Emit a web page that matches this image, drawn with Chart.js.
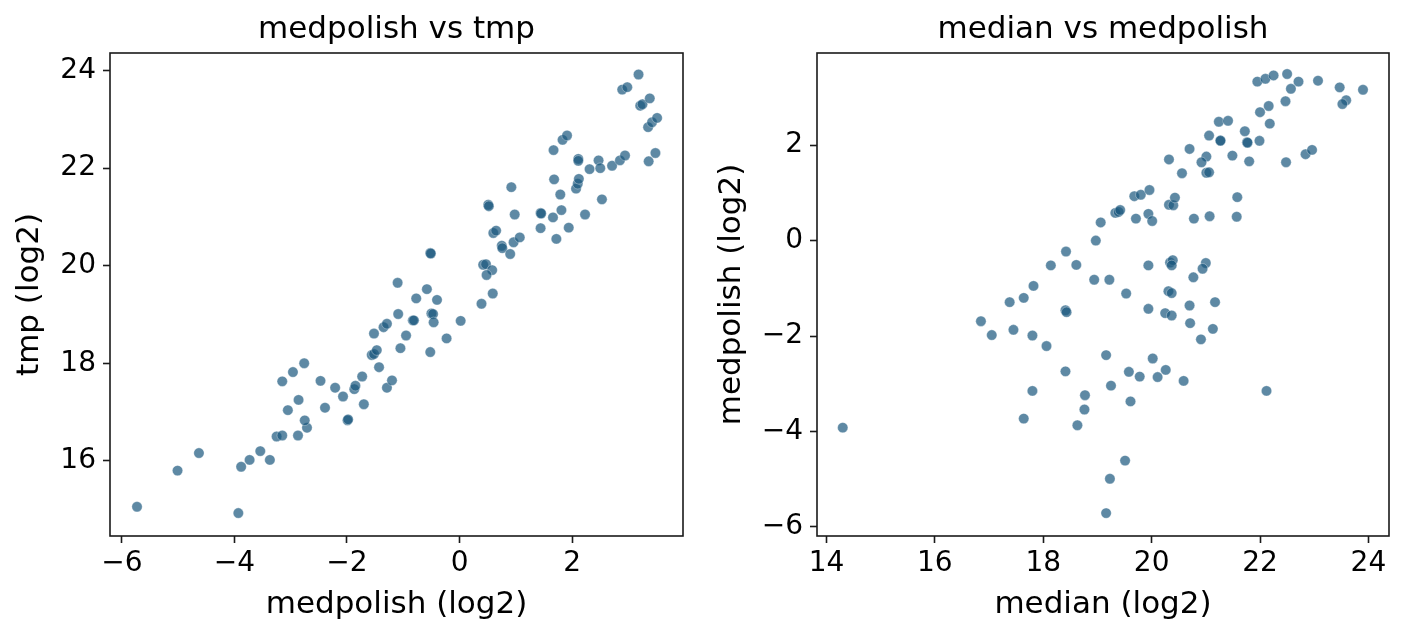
<!DOCTYPE html>
<html>
<head>
<meta charset="utf-8">
<script src="https://cdn.jsdelivr.net/npm/chart.js@4.4.1/dist/chart.umd.min.js"></script>
<style>
  html, body { margin: 0; padding: 0; background: #fff; width: 1405px; height: 638px; overflow: hidden; }
  canvas { position: absolute; top: 0; }
  #c1 { left: 0; }
  #c2 { left: 703px; }
</style>
</head>
<body>
<canvas id="c1" width="703" height="638"></canvas>
<canvas id="c2" width="702" height="638"></canvas>
<script>
// ---- Data ----
const leftMedpolish = [-5.73,-5.01,-4.63,-3.93,-3.88,-3.73,-3.54,-3.37,-3.25,-3.15,
  -2.87,-2.71,-2.75,-3.05,-2.86,-3.15,-2.96,-2.76,-2.47,-2.39,
  -2.21,-2.07,-1.99,-1.98,-1.87,-1.85,-1.73,-1.70,-1.56,-1.52,
  -1.47,-1.52,-1.43,-1.35,-1.29,-1.29,-1.20,-1.10,-1.09,-1.05,
  -0.95,-0.83,-0.81,-0.77,-0.58,-0.40,-0.50,-0.47,-0.46,-0.52,
  -0.23,0.02,-0.52,-0.51,0.39,0.59,0.42,0.47,0.58,0.48,
  0.75,0.76,0.96,0.90,1.07,0.60,0.65,0.51,0.52,0.92,
  0.98,1.44,1.45,1.44,1.66,1.81,1.72,1.94,1.79,1.68,
  1.67,1.83,1.91,2.07,2.10,2.12,2.11,2.11,2.23,2.31,
  2.47,2.50,2.53,2.71,2.85,2.94,2.89,2.98,3.18,3.21,
  3.25,3.38,3.35,3.42,3.51,3.48,3.36];
const leftTmp = [15.06,15.80,16.16,14.93,15.88,16.02,16.20,16.02,16.50,16.52,
  16.52,16.68,16.83,17.04,17.25,17.63,17.82,18.00,17.64,17.09,
  17.50,17.32,16.83,16.85,17.47,17.54,17.73,17.16,18.17,18.19,
  18.27,18.61,17.92,18.74,18.81,17.50,17.65,19.65,19.01,18.31,
  18.57,18.88,18.88,19.33,19.52,19.30,19.02,19.01,18.84,18.23,
  18.51,18.87,20.26,20.25,19.22,19.43,20.02,20.03,19.91,19.81,
  20.41,20.36,20.48,20.24,20.58,20.67,20.72,21.25,21.22,21.61,
  21.05,21.08,21.07,20.77,20.99,21.14,20.55,20.78,21.46,21.77,
  22.37,22.58,22.67,21.58,21.68,21.78,22.19,22.15,21.05,21.98,
  22.16,22.00,21.36,22.05,22.16,22.26,23.61,23.66,23.92,23.28,
  23.31,23.43,22.84,22.94,23.03,22.31,22.14];

const rightMedian = [14.30,16.85,17.05,17.38,17.64,17.82,18.14,18.42,17.45,17.80,
  18.06,18.41,18.43,18.41,17.80,17.64,18.61,18.94,19.22,19.53,
  18.97,19.06,19.33,19.39,19.42,19.71,19.94,20.01,19.68,19.80,
  19.96,20.32,20.32,20.40,20.43,19.94,20.34,20.39,20.37,21.00,
  20.94,20.77,20.31,20.37,21.17,20.70,19.94,20.25,20.37,20.71,
  21.13,20.91,19.16,20.02,19.58,19.78,20.11,20.26,20.59,22.12,
  19.25,18.77,18.76,18.63,19.61,19.51,19.23,19.16,21.95,22.10,
  22.25,22.50,22.71,22.57,23.07,23.47,23.90,23.59,23.52,22.47,
  22.16,22.00,22.18,21.24,21.41,21.72,21.06,21.27,21.27,21.76,
  21.77,21.99,20.70,21.01,20.92,21.49,21.80,22.48,22.84,22.96,
  20.56,21.01,21.06,21.58,20.78,21.07,21.57];
const rightMedpolish = [-3.92,-1.69,-1.98,-1.29,-1.20,-0.95,-0.52,-0.23,-1.87,-1.99,
  -2.21,-1.46,-1.50,-2.74,-3.15,-3.73,-0.51,-0.82,-0.82,-1.11,
  0.00,0.38,0.58,0.60,0.64,0.46,0.56,0.41,0.93,0.96,
  1.06,1.70,0.75,0.74,0.90,-0.52,-0.46,-0.41,-0.52,-0.47,
  -0.59,-0.77,-1.06,-1.10,-1.29,-1.36,-1.43,-1.52,-1.57,-1.73,
  -1.85,-2.07,-2.40,-2.47,-2.75,-2.85,-2.86,-2.71,-2.94,-3.15,
  -3.04,-3.24,-3.54,-3.87,-3.37,-4.61,-4.99,-5.71,3.33,3.39,
  3.46,3.49,3.33,3.18,3.35,3.21,3.16,2.94,2.86,2.92,
  2.82,2.69,2.45,2.49,2.51,2.29,2.20,2.10,2.09,2.06,
  2.05,2.09,1.92,1.76,1.64,1.78,1.66,1.64,1.81,1.90,
  1.41,1.42,1.43,0.91,0.46,0.51,0.50];

const leftXTicks = [-6, -4, -2, 0, 2];
const leftYTicks = [16, 18, 20, 22, 24];
const rightXTicks = [14, 16, 18, 20, 22, 24];
const rightYTicks = [-6, -4, -2, 0, 2];

const titles = ['medpolish vs tmp', 'median vs medpolish'];
const xLabels = ['medpolish (log2)', 'median (log2)'];
const yLabels = ['tmp (log2)', 'medpolish (log2)'];

// ---- Styling ----
const FONT = 'DejaVu Sans';
const FS_TICK = 28;
const FS_LABEL = 31;
const POINT = 'rgba(26,87,125,0.70)';
const EDGE = 'rgba(255,255,255,0.55)';
const INK = '#000000';

// frame on all four sides + title centred over the plotting area (matplotlib style)
const framePlugin = {
  id: 'frame',
  afterDraw(chart, args, opts) {
    const {ctx, chartArea: a} = chart;
    ctx.save();
    ctx.strokeStyle = '#1a1a1a';
    ctx.lineWidth = 1.6;
    ctx.strokeRect(a.left, a.top, a.right - a.left, a.bottom - a.top);
    ctx.fillStyle = INK;
    ctx.font = FS_LABEL + 'px "' + FONT + '"';
    ctx.textAlign = 'center';
    ctx.textBaseline = 'middle';
    ctx.fillText(opts.text, (a.left + a.right) / 2, 30);
    ctx.restore();
  }
};

const fmt = v => String(v).replace('-', '\u2212');

function makeChart(id, xs, ys, xt, yt, lim, title, xl, yl, yW, padRight, yTitlePad) {
  const pts = xs.map((x, i) => ({x: x, y: ys[i]}));
  return new Chart(document.getElementById(id), {
    type: 'scatter',
    data: { datasets: [{
      data: pts,
      backgroundColor: POINT,
      borderColor: EDGE,
      borderWidth: 0.6,
      pointRadius: 5.2,
      pointHoverRadius: 5.2
    }]},
    options: {
      responsive: false,
      animation: false,
      devicePixelRatio: 1,
      events: [],
      layout: { padding: { left: 0, right: padRight, top: 53, bottom: 0 } },
      plugins: {
        legend: { display: false },
        tooltip: { enabled: false },
        title: { display: false },
        frame: { text: title }
      },
      scales: {
        x: {
          type: 'linear', min: lim[0], max: lim[1],
          afterBuildTicks: s => { s.ticks = xt.map(v => ({value: v})); },
          afterFit: s => { s.height = 102; },
          ticks: { color: INK, font: { family: FONT, size: FS_TICK }, padding: 4, callback: fmt, maxRotation: 0 },
          grid: { drawOnChartArea: false, drawTicks: true, tickLength: 7, tickColor: '#1a1a1a', tickWidth: 1.6 },
          border: { display: false },
          title: { display: true, text: xl, color: INK, font: { family: FONT, size: FS_LABEL, lineHeight: 1.2 }, padding: { top: 0, bottom: 14.4 } }
        },
        y: {
          type: 'linear', min: lim[2], max: lim[3],
          afterBuildTicks: s => { s.ticks = yt.map(v => ({value: v})); },
          afterFit: s => { s.width = yW; },
          ticks: { color: INK, font: { family: FONT, size: FS_TICK }, padding: 7, callback: fmt },
          grid: { drawOnChartArea: false, drawTicks: true, tickLength: 7, tickColor: '#1a1a1a', tickWidth: 1.6 },
          border: { display: false },
          title: { display: true, text: yl, color: INK, font: { family: FONT, size: FS_LABEL, lineHeight: 1.2 }, padding: { top: yTitlePad, bottom: 0 } }
        }
      }
    },
    plugins: [framePlugin]
  });
}

makeChart('c1', leftMedpolish, leftTmp, leftXTicks, leftYTicks,
  [-6.21, 3.97, 14.46, 24.36], titles[0], xLabels[0], yLabels[0], 110, 20, 11.4);
makeChart('c2', rightMedian, rightMedpolish, rightXTicks, rightYTicks,
  [13.825, 24.38, -6.19, 3.93], titles[1], xLabels[1], yLabels[1], 114, 16, 10.4);
</script>
</body>
</html>
